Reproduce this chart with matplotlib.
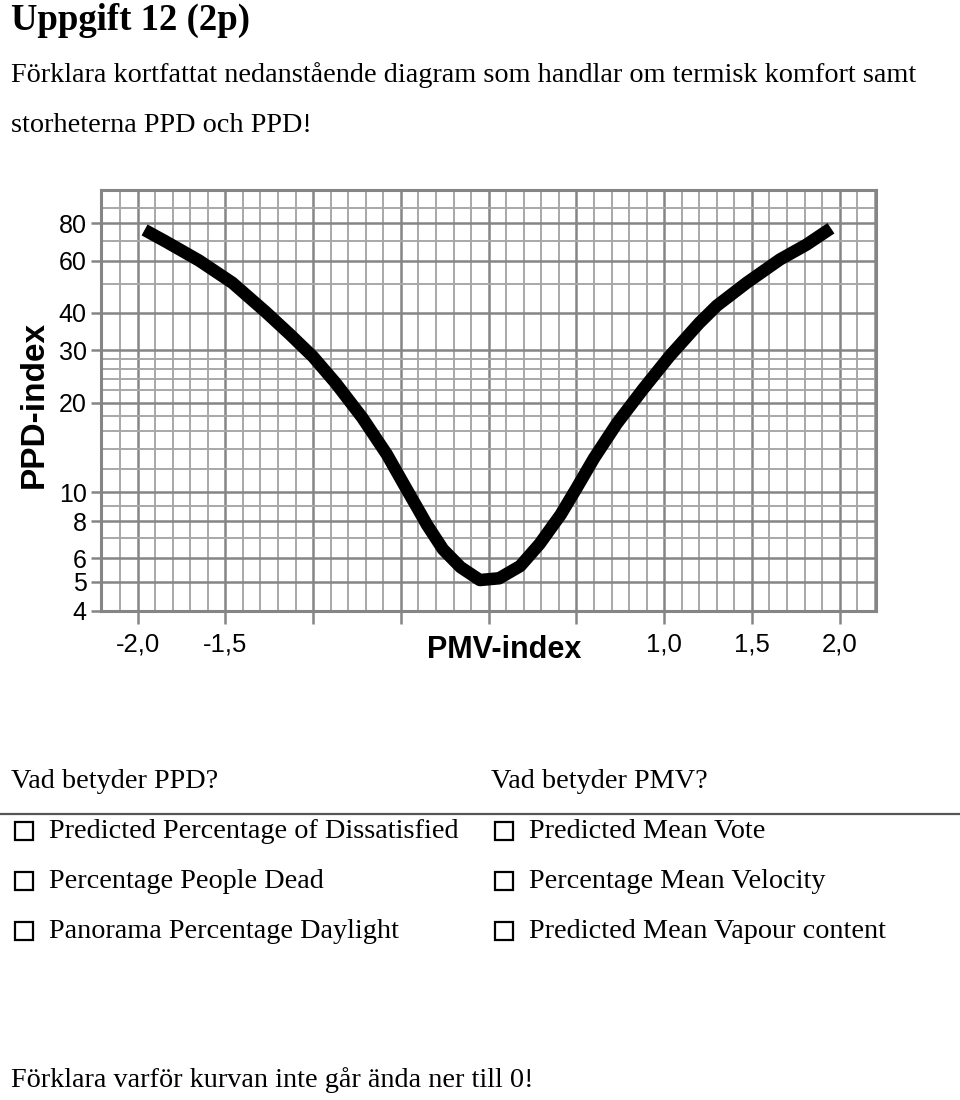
#!/usr/bin/env python3
# -*- coding: utf-8 -*-
"""
Uppgift 12 - PPD vs PMV diagram (termisk komfort)
"""

import matplotlib
matplotlib.use('Agg')
import matplotlib.pyplot as plt
from matplotlib.patches import Rectangle
from matplotlib.ticker import FixedLocator, NullFormatter

# Curve
pmv = [-1.96, -1.84, -1.65, -1.46, -1.27, -1.13, -1.00, -0.87, -0.72, -0.58, -0.47, -0.40, -0.35,
       -0.26, -0.16, -0.05, 0.06, 0.18, 0.29, 0.41, 0.50, 0.60, 0.73, 0.88, 1.03, 1.20, 1.30,
       1.47, 1.66, 1.81, 1.95]
ppd = [76, 69.5, 60, 50.5, 40.3, 33.8, 28.5, 23.2, 17.8, 13.4, 10.3, 8.73, 7.75,
       6.43, 5.6, 5.07, 5.14, 5.65, 6.7, 8.4, 10.3, 13.0, 17.0, 22.2, 28.6, 37, 42.3,
       50.5, 60.5, 67.8, 77]

y_major = [4, 5, 6, 8, 10, 20, 30, 40, 60, 80]
y_minor = [7, 9, 12, 14, 16, 18, 22, 24, 26, 28, 50, 70, 90]
x_major = [-2.0, -1.5, -1.0, -0.5, 0.0, 0.5, 1.0, 1.5, 2.0]
x_labels = ['-2,0', '-1,5', '', '', '', '', '1,0', '1,5', '2,0']

ppd_options = ['Predicted Percentage of Dissatisfied', 'Percentage People Dead',
               'Panorama Percentage Daylight']
pmv_options = ['Predicted Mean Vote', 'Percentage Mean Velocity',
               'Predicted Mean Vapour content']

SERIF = ['Liberation Serif', 'DejaVu Serif']
SANS = ['Liberation Sans', 'DejaVu Sans']
BODY = 20.3


def main():
    fig = plt.figure(figsize=(9.6, 11), dpi=100)
    W, H = 960, 1100

    def ftext(x, y, s, **kw):
        fig.text(x / W, 1 - y / H, s, family=SERIF, va='center', ha='left', **kw)

    ftext(11, 20, 'Uppgift 12 (2p)', fontsize=26.5, fontweight='bold')
    ftext(11, 75, 'Förklara kortfattat nedanstående diagram som handlar om termisk komfort samt',
          fontsize=BODY)
    ftext(11, 125, 'storheterna PPD och PPD!', fontsize=BODY)

    # chart
    ax = fig.add_axes([100.7 / W, 1 - 610.7 / H, 775 / W, 420.7 / H])
    ax.set_yscale('log')
    ax.set_xlim(-2.21, 2.205)
    ax.set_ylim(4, 103.5)

    ax.xaxis.set_major_locator(FixedLocator(x_major))
    ax.xaxis.set_minor_locator(FixedLocator([i / 10 for i in range(-22, 23)]))
    ax.set_xticklabels(x_labels)
    ax.yaxis.set_major_locator(FixedLocator(y_major))
    ax.yaxis.set_minor_locator(FixedLocator(y_minor))
    ax.set_yticklabels([str(v) for v in y_major])
    ax.yaxis.set_minor_formatter(NullFormatter())

    ax.grid(True, which='minor', color='#a8a8a8', linewidth=1.4)
    ax.grid(True, which='major', color='#858585', linewidth=1.8)
    ax.set_axisbelow(True)
    for sp in ax.spines.values():
        sp.set_color('#858585')
        sp.set_linewidth(2.2)

    ax.tick_params(axis='x', which='major', length=9, width=1.8, color='#858585',
                   labelsize=18.5, pad=7)
    ax.tick_params(axis='y', which='major', length=7, width=1.8, color='#858585',
                   labelsize=18, pad=3)
    ax.tick_params(which='minor', length=0)
    for lab in ax.get_xticklabels() + ax.get_yticklabels():
        lab.set_family(SANS)

    ax.plot(pmv, ppd, color='black', linewidth=9, solid_capstyle='butt',
            solid_joinstyle='round')

    fig.text(504 / W, 1 - 650 / H, 'PMV-index', family=SANS, fontweight='bold',
             fontsize=22, ha='center', va='center')
    fig.text(34 / W, 1 - 404 / H, 'PPD-index', family=SANS, fontweight='bold',
             fontsize=24, ha='center', va='center', rotation=90)

    # questions
    ftext(11, 781, 'Vad betyder PPD?', fontsize=BODY)
    ftext(491, 781, 'Vad betyder PMV?', fontsize=BODY)
    fig.add_artist(plt.Line2D([0, 1], [1 - 814 / H, 1 - 814 / H], transform=fig.transFigure,
                              color='#555555', linewidth=1.6))

    rows_y = [831, 881, 931]
    for i, y in enumerate(rows_y):
        for bx, tx, s in [(15, 49, ppd_options[i]), (495, 529, pmv_options[i])]:
            fig.add_artist(Rectangle((bx / W, 1 - (y + 9) / H), 18 / W, 18 / H,
                                     transform=fig.transFigure, fill=False,
                                     edgecolor='black', linewidth=1.6))
            ftext(tx, y, s, fontsize=BODY)

    ftext(11, 1080, 'Förklara varför kurvan inte går ända ner till 0!', fontsize=BODY)

    fig.savefig('out.png', dpi=100, facecolor='white')


if __name__ == '__main__':
    main()
